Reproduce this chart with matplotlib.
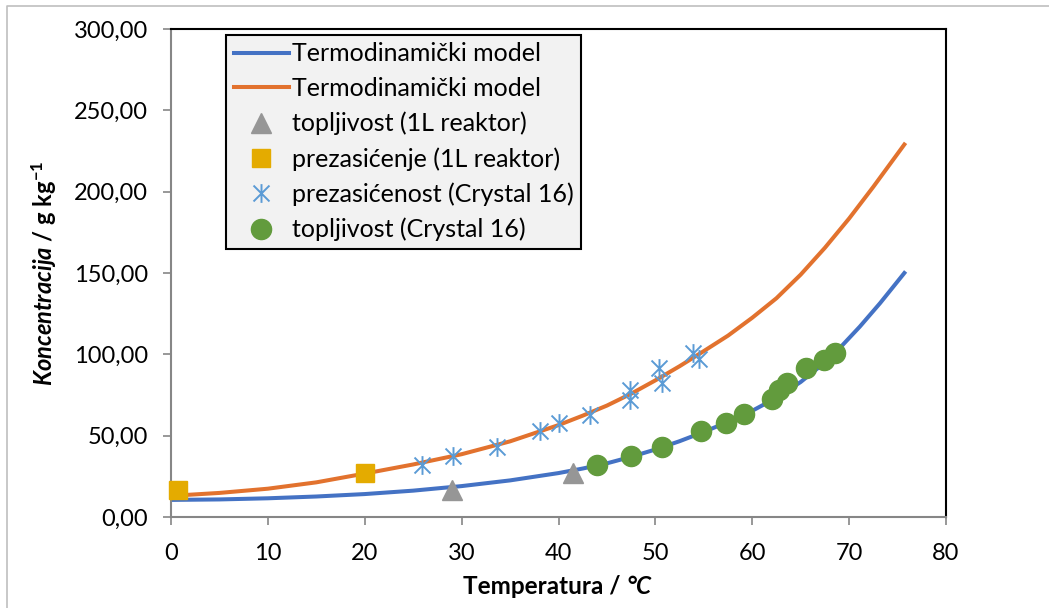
import matplotlib
matplotlib.use('Agg')
import matplotlib.pyplot as plt
from matplotlib.path import Path
from matplotlib.lines import Line2D
from matplotlib.ticker import FuncFormatter

plt.rcParams['font.family'] = ['Lato', 'DejaVu Sans']
plt.rcParams['mathtext.fontset'] = 'custom'
plt.rcParams['mathtext.rm'] = 'Lato:bold'
plt.rcParams['mathtext.bf'] = 'Lato:bold'
plt.rcParams['mathtext.it'] = 'Lato:italic:bold'

# termodinamicki model
blue_t = [0, 5, 10, 15, 20, 25, 30, 35, 40, 42.5, 45, 47.5, 50, 52.5, 55, 57.5,
          60, 62.5, 65, 67.5, 69.1, 71.1, 73.2, 75.7]
model_blue = [10.5, 10.8, 11.5, 12.6, 14.1, 16.2, 19.0, 22.5, 27.0, 29.8, 33.0, 37.0,
              41.5, 46.6, 52.3, 58.5, 65.3, 73.3, 83.0, 95.0, 104.3, 117.0, 131.5, 150.0]
orange_t = [0, 5, 10, 15, 20, 25, 30, 35, 40, 42.5, 45, 47.5, 50, 52.5, 55, 57.5,
            60, 62.5, 65, 67.5, 70, 72.5, 75.7]
model_orange = [13.0, 14.8, 17.4, 21.3, 26.7, 32.3, 38.6, 46.5, 56.5, 62.3, 68.5, 75.8,
                84.0, 92.7, 102.0, 111.5, 122.5, 134.5, 149.0, 165.5, 183.5, 203.0, 229.0]

# topljivost (1L reaktor)
tri_t = [29.0, 41.5]
tri_c = [16.6, 27.0]
# prezasicenje (1L reaktor)
sq_t = [0.7, 20.0]
sq_c = [16.3, 27.0]
# prezasicenost (Crystal 16)
star_t = [25.9, 29.1, 33.7, 38.1, 40.0, 43.2, 47.4, 47.4, 50.4, 50.7, 53.9, 54.5]
star_c = [32.0, 37.5, 43.0, 53.0, 58.0, 63.0, 72.0, 78.0, 91.6, 82.4, 100.8, 97.0]
# topljivost (Crystal 16)
circ_t = [44.0, 47.5, 50.7, 54.7, 57.3, 59.1, 62.0, 62.8, 63.6, 65.5, 67.4, 68.5]
circ_c = [32.0, 37.5, 43.0, 53.0, 58.0, 63.3, 72.3, 78.0, 82.5, 91.4, 96.5, 100.6]

star = Path([(0, -1), (0, 1), (-0.85, -0.85), (0.85, 0.85), (-0.85, 0.85), (0.85, -0.85)],
            [Path.MOVETO, Path.LINETO, Path.MOVETO, Path.LINETO, Path.MOVETO, Path.LINETO])

fig = plt.figure(figsize=(10.49, 6.08), dpi=100)
ax = fig.add_axes([171/1049, 1-517/608, 775/1049, 488/608])

# outer chart frame
fig.add_artist(Line2D([7/1049, 7/1049, 1.0], [0.0, 1-6/608, 1-6/608],
                      transform=fig.transFigure, color='#bfbfbf', lw=1.2))

ax.plot(blue_t, model_blue, color='#4472c4', lw=2.9, label='Termodinamički model',
        zorder=2, solid_joinstyle='round')
ax.plot(orange_t, model_orange, color='#e2722e', lw=2.9, label='Termodinamički model',
        zorder=2, solid_joinstyle='round')
ax.plot(tri_t, tri_c, ls='none', marker='^', ms=14, color='#969696', mec='#969696',
        label='topljivost (1L reaktor)', zorder=3, clip_on=False)
ax.plot(sq_t, sq_c, ls='none', marker='s', ms=13, color='#e4ab00', mec='#e4ab00',
        label='prezasićenje (1L reaktor)', zorder=3, clip_on=False)
ax.plot(star_t, star_c, ls='none', marker=star, ms=13.5, color='#5b9bd5', mew=1.4,
        label='prezasićenost (Crystal 16)', zorder=3)
ax.plot(circ_t, circ_c, ls='none', marker='o', ms=14.5, color='#629b3d', mec='#629b3d',
        label='topljivost (Crystal 16)', zorder=3)

ax.set_xlim(0, 80)
ax.set_ylim(0, 300)
ax.set_xticks(range(0, 81, 10))
ax.set_yticks(range(0, 301, 50))
ax.yaxis.set_major_formatter(FuncFormatter(lambda v, p: f'{v:.2f}'.replace('.', ',')))
ax.tick_params(labelsize=17, length=5.5, width=1.2, color='#868686')
ax.tick_params(axis='y', pad=11)
ax.tick_params(axis='x', pad=13)

for s in ['left', 'bottom']:
    ax.spines[s].set_color('#868686')
    ax.spines[s].set_linewidth(1.5)
for s in ['top', 'right']:
    ax.spines[s].set_color('black')
    ax.spines[s].set_linewidth(1.5)

# x label: bold text followed by bold italic unit
xl = fig.text(463/1049, 1-594/608, 'Temperatura / ', fontsize=17.5, fontweight='bold',
              ha='left', va='baseline')
ax.annotate('°C', xy=(1, 0), xycoords=xl, xytext=(0, 0), textcoords='offset points',
            fontsize=17.5, fontweight='bold', fontstyle='italic', ha='left', va='bottom')
ax.set_ylabel(r'$\mathit{Koncentracija}$ / g kg$^{\mathbf{-1}}$', fontsize=17,
              fontweight='bold', labelpad=11)

leg = ax.legend(loc='upper left', bbox_to_anchor=(0.071, 0.988), borderaxespad=0,
                fontsize=18, handlelength=2.2, handletextpad=0.12, labelspacing=0.47,
                fancybox=False, framealpha=1, facecolor='#f2f2f2', edgecolor='black',
                borderpad=0.3)
leg.get_frame().set_linewidth(1.5)

fig.savefig('out.png', dpi=100)
